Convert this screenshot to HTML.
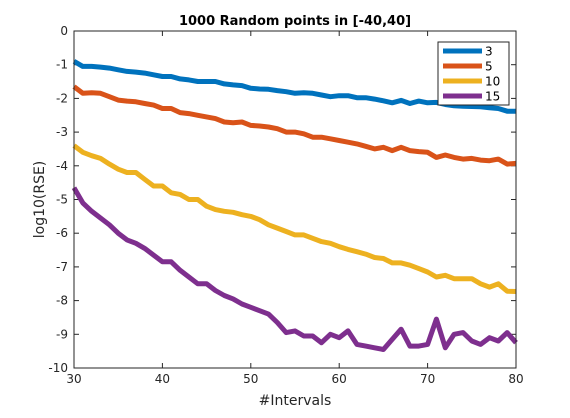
<!DOCTYPE html>
<html><head><meta charset="utf-8"><style>
body{margin:0;background:#fff;width:570px;height:413px;overflow:hidden;font-family:"Liberation Sans","DejaVu Sans",sans-serif}
svg text{font-family:"DejaVu Sans","Liberation Sans",sans-serif}
</style></head><body>
<svg id="c" width="570" height="413"></svg>
<script>
const xs=[];for(let i=30;i<=80;i++)xs.push(i);
const names=["3","5","10","15"];
const colors=["#0072BD","#D95319","#EDB120","#7E2F8E"];
const v3=[-0.9,-1.05,-1.05,-1.07,-1.1,-1.15,-1.2,-1.22,-1.25,-1.3,-1.35,-1.35,-1.42,-1.45,-1.5,-1.5,-1.5,-1.57,-1.6,-1.62,-1.7,-1.72,-1.73,-1.77,-1.8,-1.85,-1.83,-1.85,-1.9,-1.95,-1.92,-1.92,-1.98,-1.98,-2.02,-2.07,-2.13,-2.06,-2.15,-2.08,-2.13,-2.12,-2.18,-2.22,-2.23,-2.24,-2.25,-2.28,-2.3,-2.38,-2.38];
const v5=[-1.65,-1.85,-1.83,-1.85,-1.95,-2.05,-2.08,-2.1,-2.15,-2.2,-2.3,-2.3,-2.42,-2.45,-2.5,-2.55,-2.6,-2.7,-2.72,-2.7,-2.8,-2.82,-2.85,-2.9,-3.0,-3.0,-3.05,-3.15,-3.15,-3.2,-3.25,-3.3,-3.35,-3.42,-3.5,-3.45,-3.55,-3.45,-3.55,-3.58,-3.6,-3.75,-3.68,-3.75,-3.8,-3.78,-3.83,-3.85,-3.8,-3.95,-3.93];
const v10=[-3.4,-3.6,-3.7,-3.78,-3.95,-4.1,-4.2,-4.2,-4.4,-4.6,-4.6,-4.8,-4.85,-5.0,-5.0,-5.2,-5.3,-5.35,-5.38,-5.45,-5.5,-5.6,-5.75,-5.85,-5.95,-6.05,-6.05,-6.15,-6.25,-6.3,-6.4,-6.48,-6.55,-6.62,-6.72,-6.75,-6.88,-6.88,-6.95,-7.05,-7.15,-7.3,-7.25,-7.35,-7.35,-7.35,-7.5,-7.6,-7.5,-7.72,-7.73];
const v15=[-4.65,-5.1,-5.35,-5.55,-5.75,-6.0,-6.2,-6.3,-6.45,-6.65,-6.85,-6.85,-7.1,-7.3,-7.5,-7.5,-7.7,-7.85,-7.95,-8.1,-8.2,-8.3,-8.4,-8.65,-8.95,-8.9,-9.05,-9.05,-9.25,-9.0,-9.1,-8.9,-9.3,-9.35,-9.4,-9.45,-9.15,-8.85,-9.35,-9.35,-9.3,-8.55,-9.4,-9.0,-8.95,-9.2,-9.3,-9.1,-9.2,-8.95,-9.25];
const series=[v3,v5,v10,v15];
const yTicks=[0,-1,-2,-3,-4,-5,-6,-7,-8,-9,-10];
const xTicks=[30,40,50,60,70,80];
const L=74,R=516,T=31,B=368;
const X=v=>L+(v-30)/(80-30)*(R-L);
const Y=v=>T+(0-v)/10*(B-T);
const svg=document.getElementById('c');
const NS="http://www.w3.org/2000/svg";
function mk(t,a,p){const e=document.createElementNS(NS,t);for(const k in a)e.setAttribute(k,a[k]);(p||svg).appendChild(e);return e;}
const bg=mk('rect',{x:L,y:T,width:R-L,height:B-T,fill:'#fff',stroke:'none'});


yTicks.forEach(v=>{
 const y=Y(v);
 mk('line',{x1:L,x2:L+5,y1:y,y2:y,stroke:'#262626','stroke-width':1});
 mk('line',{x1:R,x2:R-5,y1:y,y2:y,stroke:'#262626','stroke-width':1});
 const t=mk('text',{x:L-6,y:y+4,'text-anchor':'end','font-size':12,fill:'#262626'});t.textContent=v;
 
 
});
xTicks.forEach(v=>{
 const x=X(v);
 mk('line',{x1:x,x2:x,y1:B,y2:B-5,stroke:'#262626','stroke-width':1});
 mk('line',{x1:x,x2:x,y1:T,y2:T+5,stroke:'#262626','stroke-width':1});
 const t=mk('text',{x:x,y:B+15,'text-anchor':'middle','font-size':12,fill:'#262626'});t.textContent=v;
 
 
});
series.forEach((s,i)=>{
 const d=s.map((v,j)=>(j?'L':'M')+X(xs[j]).toFixed(1)+','+Y(v).toFixed(1)).join('');
 const p=mk('path',{d:d,fill:'none',stroke:colors[i],'stroke-width':5,'stroke-linejoin':'round'});
 
 
});
const ax=mk('rect',{x:L,y:T,width:R-L,height:B-T,fill:'none',stroke:'#262626','stroke-width':1});


const ttl=mk('text',{x:(L+R)/2,y:25,'text-anchor':'middle','font-size':13,'font-weight':'bold',fill:'#000'});ttl.textContent='1000 Random points in [-40,40]';


const xl=mk('text',{x:(L+R)/2,y:405,'text-anchor':'middle','font-size':14,fill:'#262626'});xl.textContent='#Intervals';


const yl=mk('text',{x:0,y:0,'text-anchor':'middle','font-size':14,fill:'#262626',transform:'translate(44,'+((T+B)/2)+') rotate(-90)'});yl.textContent='log10(RSE)';


const lg=mk('g',{});


mk('rect',{x:438,y:42,width:71,height:63,fill:'#fff',stroke:'#262626','stroke-width':1},lg);
names.forEach((n,i)=>{
 const y=51+i*15;
 const ln=mk('line',{x1:443,x2:482,y1:y,y2:y,stroke:colors[i],'stroke-width':5},lg);
 
 
 const t=mk('text',{x:485,y:y+4.5,'font-size':12,fill:'#000'},lg);t.textContent=n;
 
 
});
</script>
</body></html>
